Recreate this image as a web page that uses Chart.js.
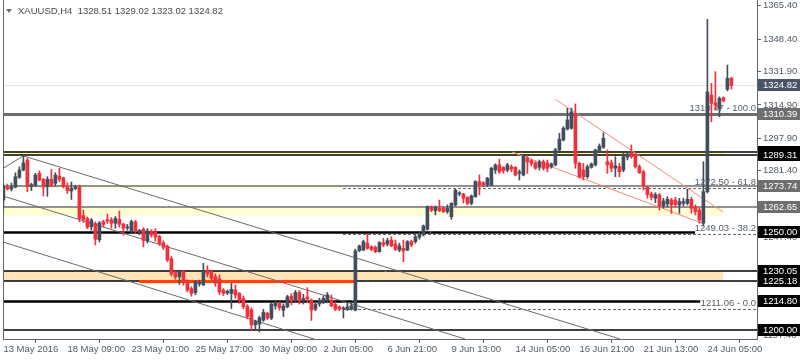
<!DOCTYPE html>
<html>
<head>
<meta charset="utf-8">
<script src="https://cdn.jsdelivr.net/npm/chart.js@4.4.0/dist/chart.umd.min.js"></script>
<style>
  html, body { margin: 0; padding: 0; background: #fff; }
</style>
</head>
<body>
<canvas id="c" width="800" height="360"></canvas>
<script>
// XAUUSD H4, 13 May - 24 Jun 2016
var opens = [1266.4,1273.0,1272.0,1273.0,1278.0,1281.7,1286.8,1273.4,1273.9,1280.0,1277.0,1273.2,1277.0,1274.9,1278.6,1277.7,1273.2,1271.0,1272.3,1273.2,
  1258.5,1257.0,1252.8,1254.4,1246.2,1255.4,1256.4,1256.3,1254.6,1256.5,1254.2,1252.2,1250.6,1255.3,1249.9,1251.5,1245.6,1250.3,1250.2,1247.9,
  1244.6,1242.9,1236.5,1229.5,1227.3,1229.9,1225.4,1221.3,1219.2,1223.6,1223.2,1230.7,1229.8,1227.4,1226.3,1220.5,1219.0,1218.8,1220.5,1218.8,
  1216.2,1212.2,1210.5,1202.8,1203.2,1205.2,1208.7,1206.2,1212.5,1213.7,1210.2,1212.0,1217.4,1215.4,1219.3,1215.4,1217.0,1215.4,1210.8,1213.4,
  1214.2,1215.6,1215.4,1213.2,1212.0,1210.8,1210.8,1210.8,1210.3,1240.6,1240.9,1244.4,1242.6,1242.3,1240.1,1244.7,1244.0,1246.0,1244.0,1240.9,
  1241.8,1240.9,1245.2,1245.2,1247.4,1248.6,1251.5,1263.0,1261.0,1262.2,1262.2,1260.5,1257.9,1263.9,1269.5,1269.5,1267.8,1264.7,1268.1,1275.8,
  1275.2,1274.1,1274.1,1281.7,1284.3,1283.1,1281.7,1283.4,1283.1,1280.0,1279.2,1287.8,1286.5,1285.4,1283.1,1285.9,1285.3,1283.4,1284.3,1291.9,
  1297.0,1302.6,1303.0,1310.6,1285.1,1281.7,1278.3,1283.1,1284.3,1291.4,1293.3,1285.9,1285.4,1282.7,1283.4,1281.7,1288.2,1290.2,1289.4,1283.4,
  1280.8,1272.9,1269.5,1267.3,1269.0,1263.4,1264.4,1266.4,1266.4,1263.9,1264.7,1264.7,1266.8,1263.0,1261.3,1254.6,1270.7,1319.9,1316.0,1313.1,
  1318.5,1322.8,1328.51];
var highs = [1274.6,1274.6,1275.0,1280.3,1283.3,1288.8,1287.6,1275.0,1280.0,1281.3,1277.4,1278.3,1282.0,1280.3,1282.6,1278.0,1275.2,1275.6,1274.0,1274.0,
  1261.3,1257.8,1257.0,1255.3,1255.5,1256.2,1259.3,1257.5,1258.0,1260.8,1254.5,1254.0,1256.2,1256.0,1251.5,1252.3,1251.8,1251.3,1251.8,1248.4,
  1245.6,1243.5,1237.6,1230.2,1230.7,1230.5,1225.8,1222.2,1225.4,1225.6,1234.1,1232.9,1230.6,1228.8,1228.2,1221.3,1220.6,1223.9,1223.0,1219.3,
  1217.5,1213.1,1211.5,1205.2,1207.2,1210.7,1209.2,1214.0,1214.9,1214.5,1213.5,1217.8,1218.7,1220.3,1220.3,1218.3,1221.7,1216.0,1214.5,1216.3,
  1217.5,1219.3,1218.0,1214.5,1212.5,1212.0,1214.0,1214.0,1241.4,1243.5,1246.0,1248.9,1243.0,1243.0,1245.2,1246.9,1246.9,1247.7,1246.0,1244.4,
  1246.0,1245.7,1246.0,1248.6,1249.8,1253.7,1263.4,1263.4,1263.4,1266.4,1263.0,1263.9,1265.1,1271.9,1270.7,1269.8,1268.1,1269.0,1276.3,1279.2,
  1275.8,1278.0,1283.1,1284.8,1287.2,1283.4,1285.1,1284.3,1283.4,1281.7,1289.4,1288.9,1287.2,1285.9,1286.8,1286.8,1286.8,1285.3,1292.8,1300.4,
  1303.8,1313.2,1313.2,1315.4,1285.8,1285.1,1284.3,1285.3,1292.4,1295.0,1300.7,1291.9,1286.8,1288.5,1285.1,1290.2,1291.0,1294.5,1290.2,1284.3,
  1281.7,1273.6,1270.5,1270.1,1269.8,1267.3,1268.1,1267.3,1267.8,1267.3,1267.3,1271.9,1267.8,1263.9,1262.2,1285.9,1358.5,1325.9,1331.8,1319.0,
  1319.0,1335.2,1329.02];
var lows = [1262.3,1271.5,1271.0,1272.6,1277.4,1281.3,1270.6,1271.2,1273.3,1276.2,1268.5,1268.3,1273.2,1273.5,1275.7,1272.5,1269.7,1266.7,1271.7,1255.3,
  1255.0,1251.8,1251.0,1243.5,1245.0,1252.8,1254.5,1252.0,1252.0,1252.6,1248.5,1251.0,1249.5,1249.7,1248.6,1242.5,1244.5,1247.5,1245.4,1243.3,
  1241.2,1235.0,1227.7,1226.0,1223.4,1223.0,1219.6,1217.4,1218.2,1222.5,1222.7,1227.2,1225.4,1222.4,1218.2,1217.7,1218.2,1211.1,1216.3,1213.8,
  1211.0,1206.0,1200.1,1200.1,1199.2,1204.5,1205.5,1205.5,1210.8,1210.3,1207.0,1211.4,1213.0,1214.3,1213.4,1213.4,1214.0,1205.0,1210.0,1212.2,
  1213.6,1214.0,1212.0,1210.0,1210.0,1206.3,1210.0,1210.3,1209.9,1240.1,1240.6,1241.3,1240.6,1239.6,1239.8,1242.6,1243.0,1242.6,1240.6,1240.1,
  1235.0,1240.6,1242.6,1244.4,1246.4,1248.1,1251.1,1260.5,1258.8,1260.5,1260.0,1259.6,1256.6,1263.4,1268.5,1265.0,1263.9,1263.9,1267.8,1269.0,
  1273.2,1273.2,1273.6,1280.0,1280.0,1280.0,1280.8,1280.8,1278.7,1276.6,1278.7,1280.0,1283.8,1282.1,1281.7,1281.7,1280.8,1282.6,1283.8,1291.0,
  1296.5,1302.1,1302.5,1282.6,1277.5,1276.6,1277.5,1282.6,1283.8,1290.9,1292.8,1280.0,1280.8,1278.3,1278.3,1280.8,1286.8,1287.7,1282.6,1280.0,
  1271.5,1267.4,1266.4,1265.0,1261.3,1262.3,1262.9,1259.6,1262.9,1259.6,1263.4,1263.9,1259.8,1258.8,1254.6,1253.2,1270.0,1306.3,1312.3,1308.9,
  1316.3,1322.1,1323.02];
var closes = [1273.6,1272.0,1273.0,1278.3,1281.7,1285.4,1273.2,1274.3,1279.1,1276.6,1273.0,1277.0,1274.0,1279.1,1277.0,1273.2,1271.2,1272.4,1273.0,1257.0,
  1256.5,1252.6,1256.2,1246.4,1254.7,1254.0,1255.6,1254.6,1257.0,1254.0,1252.0,1252.6,1255.4,1250.3,1250.9,1245.8,1250.6,1248.5,1247.5,1244.2,
  1242.3,1235.8,1228.7,1227.2,1229.9,1224.6,1220.5,1218.8,1224.8,1224.4,1229.9,1228.7,1226.4,1224.0,1219.5,1218.8,1219.9,1220.9,1218.0,1215.4,
  1212.0,1207.0,1202.8,1204.5,1206.4,1209.2,1206.2,1213.4,1213.7,1211.5,1212.3,1217.1,1214.9,1219.3,1214.9,1216.2,1216.0,1210.3,1213.2,1215.3,
  1216.3,1218.1,1212.5,1210.8,1210.8,1211.4,1212.0,1212.5,1240.4,1243.0,1245.2,1241.8,1241.3,1240.1,1244.7,1243.5,1245.7,1243.0,1241.3,1243.0,
  1240.4,1245.2,1243.5,1247.7,1248.9,1253.2,1263.0,1261.3,1262.7,1261.0,1260.5,1262.2,1264.7,1271.5,1270.1,1267.3,1264.7,1268.5,1275.8,1274.1,
  1274.1,1277.5,1282.6,1284.3,1280.8,1281.4,1284.3,1282.1,1279.2,1280.8,1288.9,1285.8,1285.1,1282.6,1285.9,1282.6,1282.6,1284.8,1291.9,1297.4,
  1303.0,1307.2,1311.3,1285.1,1278.3,1278.2,1283.4,1284.8,1291.9,1293.9,1297.9,1284.3,1282.6,1283.8,1280.8,1288.5,1289.9,1288.5,1283.4,1280.3,
  1273.6,1269.2,1267.8,1269.2,1263.4,1265.9,1266.8,1263.9,1264.2,1265.6,1265.6,1266.8,1262.2,1260.5,1256.2,1270.7,1321.5,1315.7,1314.8,1318.2,
  1317.0,1328.4,1324.82];

// time axis: one label every 16 bars
var tickIdx = [0, 16, 32, 48, 64, 80, 96, 112, 128, 144, 160, 176];
var tickText = ['13 May 2016', '18 May 09:00', '23 May 01:00', '25 May 17:00', '30 May 09:00', '2 Jun 05:00',
  '6 Jun 21:00', '9 Jun 13:00', '14 Jun 05:00', '16 Jun 21:00', '21 Jun 13:00', '24 Jun 05:00'];
var priceTicks = [1197.4, 1213.9, 1230.9, 1247.4, 1264.4, 1281.4, 1297.9, 1314.9, 1331.9, 1348.4, 1365.4];

// drawn objects (prices / bar indexes)
var lastPrice = 1324.82;
var resistTop = [1289.31, 1291.05];
var bandMid = [1272.5, 1273.74];
var bandLow = [1258.4, 1262.65];
var bandOrange = [1225.18, 1230.05];
var grayLevels = [1310.39, 1273.74, 1262.65];
var blackLevels = [1291.05, 1289.31, 1230.05, 1225.18, 1200.0];
var shortLevels = [1250.0, 1214.8];
var fibPrices = [1310.47, 1272.50, 1249.03, 1211.06];
var fibPct = ['100.0', '61.8', '38.2', '0.0'];
var channel = [[5, 1288.9, 154.15, 1195.57], [-0.1, 1268.46, 115.4, 1195.57], [-0.1, 1245.0, 77.65, 1195.57], [-0.1, 1282.5, 5, 1288.9]];
var wedge = [[137.9, 1317.9, 179.9, 1260.3], [127.15, 1290.9, 174.9, 1254.45]];
var fibDiag = [84.9, 1210.9, 141.65, 1312.3];

var BULL = '#424e5e', BEAR = '#f2303c';
var FONT = '"Liberation Sans", Arial, sans-serif';

var bodies = [], wicks = [], colors = [];
for (var i = 0; i < opens.length; i++) {
  bodies.push({ x: i, y: [Math.min(opens[i], closes[i]), Math.max(opens[i], closes[i])] });
  wicks.push({ x: i, y: [lows[i], highs[i]] });
  colors.push(closes[i] >= opens[i] ? BULL : BEAR);
}

function hline(ctx, x1, x2, yv, color, w, dash) {
  var yy = Math.round(yv) + (Math.round(w) % 2 ? 0.5 : 0);
  ctx.save();
  ctx.strokeStyle = color; ctx.lineWidth = w;
  ctx.setLineDash(dash || []);
  ctx.beginPath(); ctx.moveTo(x1, yy); ctx.lineTo(x2, yy); ctx.stroke();
  ctx.restore();
}

var mt4 = {
  id: 'mt4',
  beforeDatasetsDraw: function (chart) {
    var ctx = chart.ctx, a = chart.chartArea, X = chart.scales.x, Y = chart.scales.y;
    var px = function (v) { return X.getPixelForValue(v); };
    var py = function (v) { return Y.getPixelForValue(v); };
    var bandEnd = px(179.9);
    ctx.save();
    ctx.beginPath(); ctx.rect(a.left, a.top, a.right - a.left, a.bottom - a.top); ctx.clip();

    // bands
    ctx.fillStyle = '#ffffb4';
    ctx.fillRect(a.left, py(resistTop[1]), bandEnd - a.left, py(resistTop[0]) - py(resistTop[1]));
    ctx.fillStyle = '#ffffd2';
    ctx.fillRect(a.left, py(bandMid[1]), px(84.9) - a.left, py(bandMid[0]) - py(bandMid[1]));
    ctx.fillRect(a.left, py(bandLow[1]), bandEnd - a.left, py(bandLow[0]) - py(bandLow[1]));
    ctx.fillStyle = '#ffe4b8';
    ctx.fillRect(a.left, py(bandOrange[1]), bandEnd - a.left, py(bandOrange[0]) - py(bandOrange[1]));

    // last price line
    hline(ctx, a.left, a.right, py(lastPrice), '#e4e4e4', 1);

    // fibo dashed levels + text
    ctx.font = '9.5px ' + FONT;
    ctx.textAlign = 'right'; ctx.textBaseline = 'bottom';
    fibPrices.forEach(function (p, k) {
      hline(ctx, px(84.9), a.right, py(p), '#6a6a6a', 1, [3, 2]);
      ctx.fillStyle = '#56616d';
      ctx.fillText(p.toFixed(2) + ' - ' + fibPct[k], a.right - 1, py(p) - 0.5);
    });

    // horizontal levels
    hline(ctx, a.left, a.right, py(grayLevels[0]), '#6e6e6e', 3);
    hline(ctx, a.left, a.right, py(grayLevels[1]), '#6e6e6e', 1.5);
    hline(ctx, a.left, a.right, py(grayLevels[2]), '#6e6e6e', 1.5);
    blackLevels.forEach(function (p) { hline(ctx, a.left, a.right, py(p), '#000', 1.5); });
    hline(ctx, a.left, px(172.9), py(shortLevels[0]), '#000', 2.5);
    hline(ctx, a.left, px(174.2), py(shortLevels[1]), '#000', 2.5);
    hline(ctx, px(33.9), px(88.4), py(bandOrange[0]), '#ff4500', 3);

    // trend lines
    ctx.lineWidth = 1;
    ctx.strokeStyle = '#6b6b6b';
    channel.forEach(function (l) {
      ctx.beginPath(); ctx.moveTo(px(l[0]), py(l[1])); ctx.lineTo(px(l[2]), py(l[3])); ctx.stroke();
    });
    ctx.strokeStyle = '#f48a7c';
    wedge.forEach(function (l) {
      ctx.beginPath(); ctx.moveTo(px(l[0]), py(l[1])); ctx.lineTo(px(l[2]), py(l[3])); ctx.stroke();
    });
    ctx.strokeStyle = '#ffd3a8';
    ctx.setLineDash([1, 3]);
    ctx.beginPath(); ctx.moveTo(px(fibDiag[0]), py(fibDiag[1])); ctx.lineTo(px(fibDiag[2]), py(fibDiag[3])); ctx.stroke();
    ctx.restore();

    // left border
    ctx.save();
    ctx.strokeStyle = '#5b6670'; ctx.lineWidth = 1;
    ctx.beginPath(); ctx.moveTo(a.left + 0.5, a.top); ctx.lineTo(a.left + 0.5, a.bottom); ctx.stroke();
    ctx.restore();
  },
  afterDraw: function (chart) {
    var ctx = chart.ctx, a = chart.chartArea, Y = chart.scales.y;
    var tags = [
      [lastPrice, '#485567'], [grayLevels[0], '#6e6e6e'], [blackLevels[0], '#000'], [blackLevels[1], '#000'],
      [grayLevels[1], '#6e6e6e'], [grayLevels[2], '#6e6e6e'], [shortLevels[0], '#000'],
      [blackLevels[2], '#000'], [blackLevels[3], '#000'], [shortLevels[1], '#000'], [blackLevels[4], '#000']
    ];
    ctx.save();
    ctx.font = '9.5px ' + FONT;
    ctx.textAlign = 'left'; ctx.textBaseline = 'middle';
    tags.forEach(function (t) {
      var yy = Math.round(Y.getPixelForValue(t[0]));
      ctx.fillStyle = t[1];
      ctx.fillRect(a.right + 1, yy - 6, 800 - a.right - 1, 12);
      ctx.fillStyle = '#fff';
      ctx.fillText(t[0].toFixed(2), a.right + 6, yy + 0.5);
    });
    // header
    ctx.fillStyle = '#707070';
    ctx.beginPath(); ctx.moveTo(6, 9); ctx.lineTo(12, 9); ctx.lineTo(9, 13); ctx.closePath(); ctx.fill();
    ctx.fillStyle = '#4a4a4a';
    ctx.fillText('XAUUSD,H4  ' + [opens, highs, lows, closes].map(function (s) { return s[s.length - 1].toFixed(2); }).join(' '), 18, 11);
    ctx.restore();
  }
};

new Chart(document.getElementById('c'), {
  type: 'bar',
  data: {
    datasets: [
      { label: 'body', data: bodies, backgroundColor: colors, barThickness: 3, minBarLength: 1, grouped: false, borderWidth: 0, order: 0 },
      { label: 'wick', data: wicks, backgroundColor: colors, barThickness: 1, grouped: false, borderWidth: 0, order: 1 }
    ]
  },
  options: {
    responsive: false,
    animation: false,
    devicePixelRatio: 1,
    layout: { padding: { left: 3, top: 0, right: 0, bottom: 0 } },
    plugins: { legend: { display: false }, tooltip: { enabled: false } },
    scales: {
      x: {
        type: 'linear', min: -0.1, max: 188.4, offset: false,
        afterBuildTicks: function (s) { s.ticks = tickIdx.map(function (v) { return { value: v }; }); },
        afterFit: function (s) { s.height = 21; s.paddingLeft = 0; s.paddingRight = 0; },
        ticks: {
          autoSkip: false, maxRotation: 0, align: 'start', padding: 1,
          color: '#4f5b66', font: { family: FONT, size: 9.5 },
          callback: function (v, i) { return tickText[i]; }
        },
        grid: { drawOnChartArea: false, drawTicks: true, tickLength: 4, color: '#5b6670' },
        border: { display: true, color: '#5b6670', width: 1 }
      },
      y: {
        position: 'right', min: 1195.57, max: 1368.36,
        afterBuildTicks: function (s) { s.ticks = priceTicks.map(function (v) { return { value: v }; }); },
        afterFit: function (s) { s.width = 43; s.paddingTop = 0; s.paddingBottom = 0; },
        ticks: {
          padding: 2, color: '#4f5b66', font: { family: FONT, size: 9.5 },
          callback: function (v) { return v.toFixed(2); }
        },
        grid: { drawOnChartArea: false, drawTicks: true, tickLength: 4, color: '#5b6670' },
        border: { display: true, color: '#5b6670', width: 1 }
      }
    }
  },
  plugins: [mt4]
});
</script>
</body>
</html>
